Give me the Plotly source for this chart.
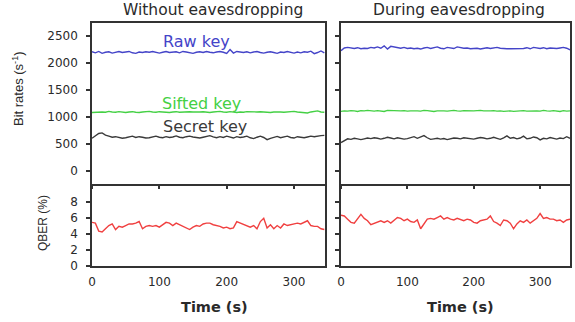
import plotly.graph_objects as go

time_s = [5 * i for i in range(70)]

raw_without = [2210,2190,2215,2180,2200,2210,2185,2205,2215,2195,2200,2215,2190,2180,2205,2195,2210,2200,2215,2205,
               2185,2200,2215,2195,2205,2210,2190,2215,2205,2195,2180,2200,2210,2195,2215,2200,2190,2205,2215,2200,
               2180,2250,2185,2215,2205,2195,2210,2190,2205,2215,2195,2185,2200,2210,2195,2180,2205,2195,2215,2200,
               2185,2205,2190,2210,2200,2220,2175,2195,2225,2190]
sifted_without = [1080,1085,1095,1090,1085,1100,1090,1085,1095,1090,1080,1090,1095,1085,1080,1090,1095,1100,1090,1085,
                  1095,1090,1085,1080,1090,1095,1085,1090,1100,1095,1090,1085,1090,1095,1085,1080,1090,1095,1100,1090,
                  1085,1095,1090,1080,1090,1085,1095,1090,1085,1090,1095,1090,1085,1080,1090,1095,1090,1085,1090,1095,
                  1100,1090,1085,1080,1070,1090,1095,1110,1090,1085]
secret_without = [600,640,690,700,660,640,620,630,615,600,610,625,640,615,630,620,605,610,625,640,
                  620,610,630,615,625,645,620,610,630,640,625,615,605,620,640,650,625,610,630,615,
                  640,620,605,630,615,625,640,610,595,620,640,615,575,600,620,635,610,625,640,615,
                  605,630,620,610,625,640,630,645,650,655]
qber_without = [5.4,5.3,4.3,4.2,4.6,5.0,5.2,4.5,4.9,4.8,5.0,5.2,5.2,5.3,5.5,4.6,4.9,5.0,4.9,5.0,
                4.8,5.1,5.4,5.3,5.0,5.3,5.1,4.9,4.6,4.5,4.8,5.0,4.9,5.2,5.3,5.3,5.1,5.0,4.9,4.7,
                4.8,4.6,4.7,5.5,5.3,5.1,4.9,4.8,5.0,4.6,5.5,5.9,4.7,5.1,4.6,5.0,4.7,5.2,5.0,5.1,
                5.2,5.3,5.2,5.4,5.6,5.0,4.9,4.9,4.6,4.5]

raw_during = [2230,2280,2290,2275,2270,2285,2265,2275,2270,2290,2280,2300,2275,2320,2260,2310,2300,2285,2275,2290,
              2270,2280,2265,2275,2260,2280,2290,2270,2285,2300,2275,2265,2290,2280,2270,2300,2285,2275,2280,2265,
              2270,2275,2260,2275,2285,2270,2280,2290,2275,2265,2265,2265,2265,2270,2270,2270,2285,2265,2290,2275,
              2270,2285,2265,2280,2275,2270,2280,2290,2275,2245]
sifted_during = [1100,1110,1105,1115,1110,1100,1115,1110,1120,1110,1105,1115,1110,1100,1120,1115,1110,1105,1110,1115,
                 1105,1110,1115,1110,1105,1120,1115,1110,1100,1110,1115,1110,1105,1110,1120,1110,1105,1115,1110,1105,
                 1110,1115,1120,1110,1105,1110,1115,1105,1110,1100,1105,1110,1100,1105,1110,1115,1105,1110,1115,1110,
                 1105,1120,1110,1105,1115,1110,1100,1115,1105,1110]
secret_during = [520,560,590,580,600,590,575,590,605,595,610,600,585,600,620,605,590,610,600,585,
                 595,615,630,600,620,650,610,580,590,600,585,595,575,590,605,600,590,610,600,595,
                 585,600,615,605,590,600,620,600,580,610,645,600,615,590,605,640,590,600,625,610,
                 570,600,590,615,600,585,605,595,630,600]
qber_during = [6.3,6.2,5.8,5.4,5.3,5.9,6.4,5.9,5.6,5.1,5.3,5.5,5.6,5.4,5.6,5.3,5.7,6.0,5.9,5.6,
               5.8,5.5,5.4,5.7,4.6,5.2,5.8,5.9,5.8,6.0,6.2,5.8,6.0,5.8,5.7,5.9,5.7,5.6,5.8,5.7,
               5.4,5.3,5.6,5.7,5.8,6.2,5.5,5.3,5.0,5.7,5.6,5.3,4.6,5.2,5.6,5.4,5.7,5.3,5.6,5.9,
               6.5,5.9,6.0,5.8,5.8,5.6,5.7,5.4,5.7,5.8]

rate_ticks = [0, 500, 1000, 1500, 2000, 2500]
qber_ticks = [0, 2, 4, 6, 8]
time_ticks = [0, 100, 200, 300]

BLUE = "#4444c8"
GREEN = "#44d044"
DARK = "#3a3a3a"
RED = "#f04040"
AX = "#333333"
TXT = "#2a2a2a"
FONT = "DejaVu Sans, Verdana, sans-serif"
FONT_V = "Liberation Sans, Arial, sans-serif"

W, H = 575, 322
def px_x(p): return p / W
def px_y(p): return (H - p) / H

fig = go.Figure()
lw = 1.4
panels = [("x", "y", "x3", "y3", raw_without, sifted_without, secret_without, qber_without),
          ("x2", "y2", "x4", "y4", raw_during, sifted_during, secret_during, qber_during)]
for xa, ya, xb, yb, raw, sif, sec, q in panels:
    for vals, col in [(raw, BLUE), (sif, GREEN), (sec, DARK)]:
        fig.add_trace(go.Scatter(x=time_s, y=vals, mode="lines", xaxis=xa, yaxis=ya,
                                 line=dict(color=col, width=lw), showlegend=False))
    fig.add_trace(go.Scatter(x=time_s, y=q, mode="lines", xaxis=xb, yaxis=yb,
                             line=dict(color=RED, width=lw), showlegend=False))

left_dom = [px_x(92), px_x(325)]
right_dom = [px_x(341), px_x(570)]
top_dom = [px_y(184), px_y(22.7)]
bot_dom = [px_y(265.5), px_y(184)]

common_axis = dict(showline=True, linecolor=AX, linewidth=1.5, showgrid=False,
                   zeroline=False, automargin=False, tickfont=dict(family=FONT, size=12, color=TXT),
                   tickcolor=AX, tickwidth=1.5)

fig.update_layout(
    width=W, height=H, margin=dict(l=0, r=0, t=0, b=0),
    paper_bgcolor="white", plot_bgcolor="white",
    xaxis=dict(domain=left_dom, anchor="y", range=[0, 346], tickvals=time_ticks, showticklabels=False,
               ticks="outside", ticklen=3, mirror=True, **common_axis),
    xaxis2=dict(domain=right_dom, anchor="y2", range=[0, 345], tickvals=time_ticks, showticklabels=False,
                ticks="outside", ticklen=3, mirror=True, **common_axis),
    xaxis3=dict(domain=left_dom, anchor="y3", range=[0, 346], tickvals=time_ticks,
                ticks="", ticklabelstandoff=4, mirror=False, **common_axis),
    xaxis4=dict(domain=right_dom, anchor="y4", range=[0, 345], tickvals=time_ticks,
                ticks="", ticklabelstandoff=4, mirror=False, **common_axis),
    yaxis=dict(domain=top_dom, anchor="x", range=[-250, 2750], tickvals=rate_ticks,
               ticks="outside", ticklen=4, ticklabelstandoff=6, mirror=True, **common_axis),
    yaxis2=dict(domain=top_dom, anchor="x2", range=[-250, 2750], tickvals=rate_ticks, showticklabels=False,
                ticks="outside", ticklen=4, mirror=True, **common_axis),
    yaxis3=dict(domain=bot_dom, anchor="x3", range=[0, 10.2], tickvals=qber_ticks,
                ticks="outside", ticklen=4, ticklabelstandoff=6, mirror=True, **common_axis),
    yaxis4=dict(domain=bot_dom, anchor="x4", range=[0, 10.2], tickvals=qber_ticks, showticklabels=False,
                ticks="outside", ticklen=4, mirror=True, **common_axis),
)

def ann(text, x, y, size, color=TXT, angle=0, bold=False, family=FONT):
    t = f"<b>{text}</b>" if bold else text
    fig.add_annotation(text=t, x=px_x(x), y=px_y(y), xref="paper", yref="paper", showarrow=False,
                       xanchor="center", yanchor="middle", textangle=angle,
                       font=dict(family=family, size=size, color=color))

ann("Without eavesdropping", 213, 10, 15.5)
ann("During eavesdropping", 459, 10, 15.5)
ann("Raw key", 196, 41.5, 16, color=BLUE)
ann("Sifted key", 201, 103, 16, color=GREEN)
ann("Secret key", 205, 126.5, 16, color=DARK)
ann("Bit rates (s<sup>-1</sup>)", 18, 89, 13, angle=-90, family=FONT_V)
ann("QBER (%)", 43, 223, 12, angle=-90, family=FONT_V)
ann("Time (s)", 214, 307, 14.5, bold=True)
ann("Time (s)", 460, 307, 14.5, bold=True)

# remove the page's default body margin so the figure sits at the window's top-left corner
fig.write_html("out.html", config={"displayModeBar": False},
               post_script="document.body.style.margin='0';")
